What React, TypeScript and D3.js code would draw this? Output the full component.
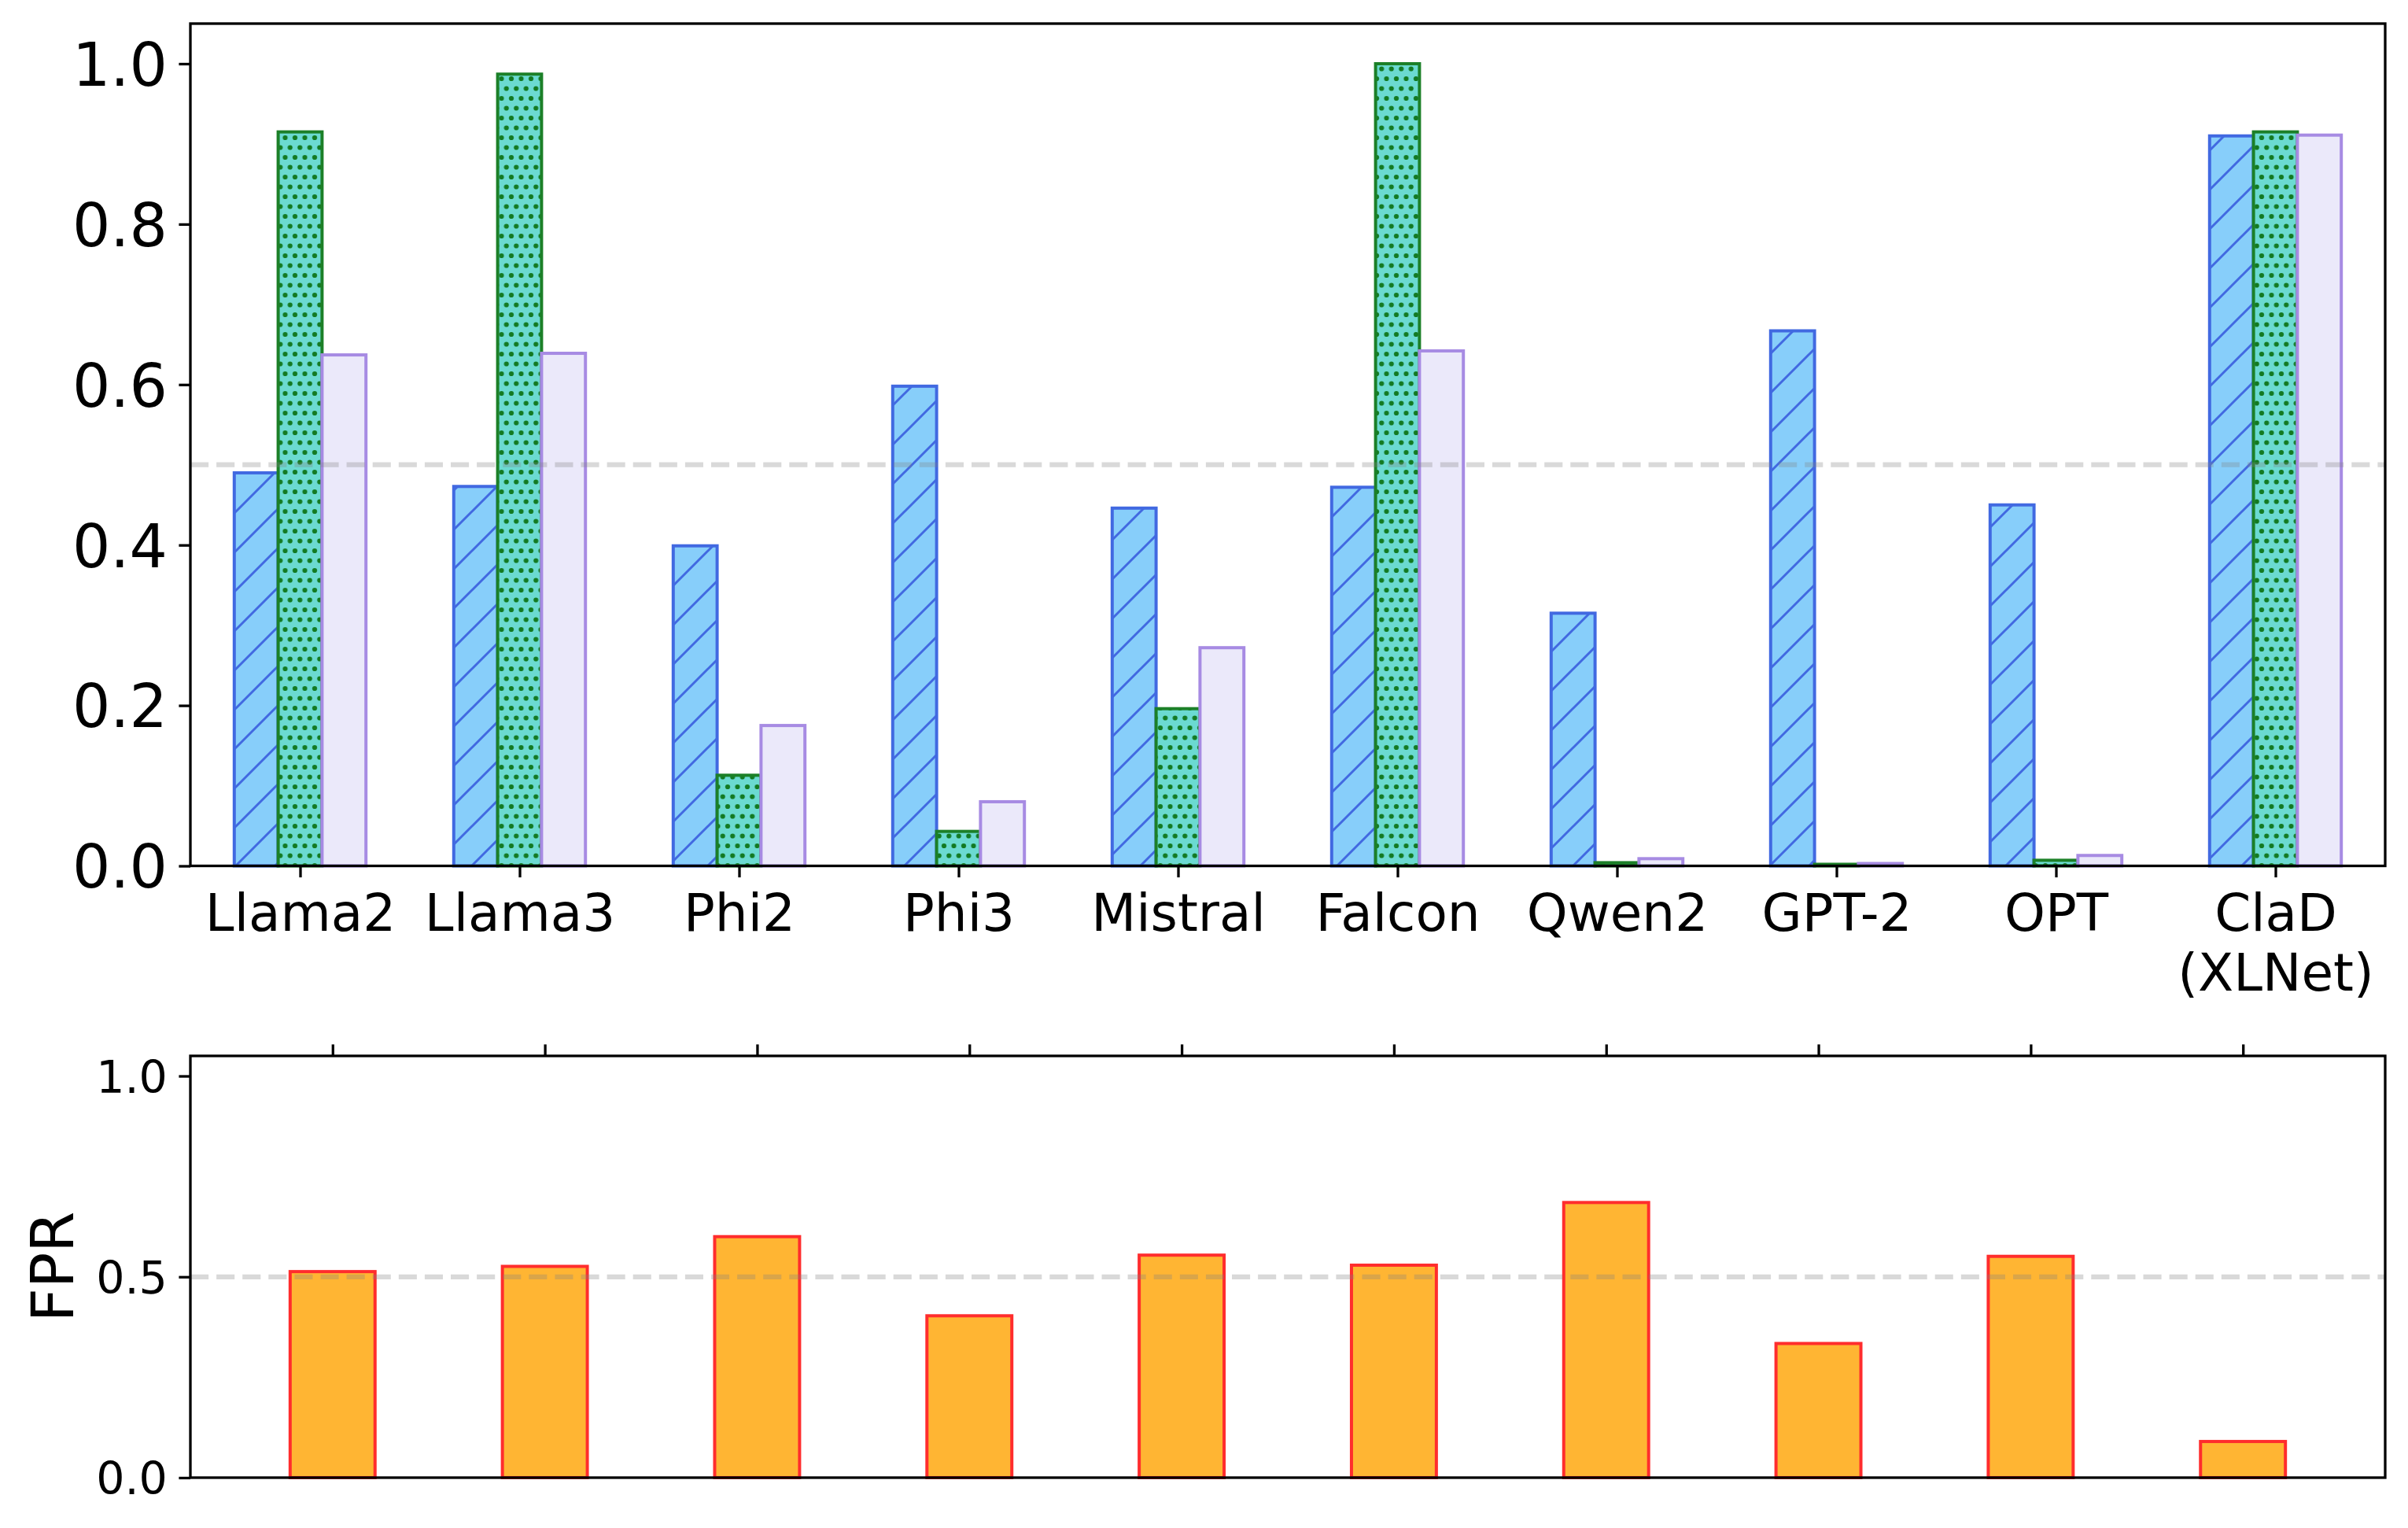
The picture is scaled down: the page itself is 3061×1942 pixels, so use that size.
import React, { useRef, useEffect } from 'react';
import * as d3 from 'd3';

// categories and values
const models = ['Llama2', 'Llama3', 'Phi2', 'Phi3', 'Mistral', 'Falcon', 'Qwen2', 'GPT-2', 'OPT', 'ClaD\n(XLNet)'];
const blueValues = [0.490, 0.473, 0.399, 0.598, 0.446, 0.472, 0.315, 0.667, 0.450, 0.910];
const greenValues = [0.915, 0.987, 0.113, 0.043, 0.196, 1.0, 0.004, 0.002, 0.007, 0.915];
const purpleValues = [0.637, 0.639, 0.175, 0.080, 0.272, 0.642, 0.009, 0.003, 0.013, 0.911];
const fprValues = [0.513, 0.526, 0.600, 0.403, 0.554, 0.529, 0.685, 0.334, 0.551, 0.090];
const topTicks = [0, 0.2, 0.4, 0.6, 0.8, 1.0];
const bottomTicks = [0, 0.5, 1.0];

const W = 3061;
const H = 1942;
const FONT = '"DejaVu Sans", sans-serif';

const Chart: React.FC = () => {
  const ref = useRef<SVGSVGElement | null>(null);

  useEffect(() => {
    if (!ref.current) return;
    const svg = d3.select(ref.current);
    svg.selectAll('*').remove();

    const left = 242;
    const right = 3032;
    const top1 = { top: 30, bottom: 1100.5 };
    const top2 = { top: 1342, bottom: 1878 };
    const tick = 14.6;
    const lw = 3.3;
    const barW = 0.2;

    const x1 = d3.scaleLinear().domain([-0.5, 9.5]).range([left, right]);
    const y1 = d3.scaleLinear().domain([0, 1.05]).range([top1.bottom, top1.top]);
    const x2 = d3.scaleLinear().domain([-0.67, 9.67]).range([left, right]);
    const y2 = d3.scaleLinear().domain([0, 1.05]).range([top2.bottom, top2.top]);

    // hatch patterns
    const defs = svg.append('defs');
    const hatch = defs.append('pattern')
      .attr('id', 'hatch-slash')
      .attr('patternUnits', 'userSpaceOnUse')
      .attr('width', 50).attr('height', 50);
    hatch.append('rect').attr('width', 50).attr('height', 50).attr('fill', '#87CEFA');
    hatch.append('path')
      .attr('d', 'M0,50 L50,0 M-10,10 L10,-10 M40,60 L60,40')
      .attr('stroke', '#4169E1').attr('stroke-width', 3);

    const dots = defs.append('pattern')
      .attr('id', 'hatch-dots')
      .attr('patternUnits', 'userSpaceOnUse')
      .attr('width', 12.5).attr('height', 25);
    dots.append('rect').attr('width', 12.5).attr('height', 25).attr('fill', '#6BDAD1');
    [[0, 0], [12.5, 0], [0, 25], [12.5, 25], [6.25, 12.5]].forEach(([cx, cy]) => {
      dots.append('circle').attr('cx', cx).attr('cy', cy).attr('r', 3.1).attr('fill', '#137A22');
    });

    // ---------- top panel ----------
    const g1 = svg.append('g');
    const series = [
      { values: blueValues, offset: -barW, fill: 'url(#hatch-slash)', stroke: '#4169E1' },
      { values: greenValues, offset: 0, fill: 'url(#hatch-dots)', stroke: '#1C8028' },
      { values: purpleValues, offset: barW, fill: '#EBE9FA', stroke: '#A78BE3' },
    ];
    series.forEach(s => {
      g1.append('g').selectAll('rect')
        .data(s.values)
        .join('rect')
        .attr('x', (_, i) => x1(i + s.offset - barW / 2))
        .attr('width', x1(barW) - x1(0))
        .attr('y', d => y1(d))
        .attr('height', d => y1(0) - y1(d))
        .attr('fill', s.fill)
        .attr('stroke', s.stroke)
        .attr('stroke-width', 4);
    });

    g1.append('line')
      .attr('x1', left).attr('x2', right)
      .attr('y1', y1(0.5)).attr('y2', y1(0.5))
      .attr('stroke', 'gray').attr('stroke-opacity', 0.3)
      .attr('stroke-width', 6.25).attr('stroke-dasharray', '23.1 10');

    const yAxis1 = g1.append('g')
      .attr('transform', `translate(${left},0)`)
      .call(d3.axisLeft(y1).tickValues(topTicks).tickSize(tick).tickPadding(tick).tickFormat(d3.format('.1f')));
    yAxis1.select('.domain').remove();
    yAxis1.selectAll('.tick line').attr('stroke', '#000').attr('stroke-width', lw);
    yAxis1.selectAll('.tick text')
      .attr('font-family', FONT).attr('font-size', 76).attr('fill', '#000')
      .attr('dy', '0.36em');

    const xAxis1 = g1.append('g')
      .attr('transform', `translate(0,${top1.bottom})`)
      .call(d3.axisBottom(x1).tickValues(d3.range(models.length)).tickSize(tick).tickPadding(tick));
    xAxis1.select('.domain').remove();
    xAxis1.selectAll('.tick line').attr('stroke', '#000').attr('stroke-width', lw);
    xAxis1.selectAll<SVGTextElement, number>('.tick text').each(function (d) {
      const t = d3.select(this);
      t.text(null).attr('dy', null)
        .attr('font-family', FONT).attr('font-size', 66).attr('fill', '#000');
      models[d].split('\n').forEach((line, i) => {
        t.append('tspan').attr('x', 0).attr('dy', i === 0 ? '0.8em' : '1.16em').text(line);
      });
    });

    g1.append('rect')
      .attr('x', left).attr('y', top1.top)
      .attr('width', right - left).attr('height', top1.bottom - top1.top)
      .attr('fill', 'none').attr('stroke', '#000').attr('stroke-width', lw);

    // ---------- bottom panel (FPR) ----------
    const g2 = svg.append('g');
    g2.append('g').selectAll('rect')
      .data(fprValues)
      .join('rect')
      .attr('x', (_, i) => x2(i - 0.2))
      .attr('width', x2(0.4) - x2(0))
      .attr('y', d => y2(d))
      .attr('height', d => y2(0) - y2(d))
      .attr('fill', '#FFB533')
      .attr('stroke', '#FF2D2D')
      .attr('stroke-width', 4);

    g2.append('line')
      .attr('x1', left).attr('x2', right)
      .attr('y1', y2(0.5)).attr('y2', y2(0.5))
      .attr('stroke', 'gray').attr('stroke-opacity', 0.3)
      .attr('stroke-width', 6.25).attr('stroke-dasharray', '23.1 10');

    const yAxis2 = g2.append('g')
      .attr('transform', `translate(${left},0)`)
      .call(d3.axisLeft(y2).tickValues(bottomTicks).tickSize(tick).tickPadding(tick).tickFormat(d3.format('.1f')));
    yAxis2.select('.domain').remove();
    yAxis2.selectAll('.tick line').attr('stroke', '#000').attr('stroke-width', lw);
    yAxis2.selectAll('.tick text')
      .attr('font-family', FONT).attr('font-size', 57).attr('fill', '#000')
      .attr('dy', '0.36em');

    const xAxis2 = g2.append('g')
      .attr('transform', `translate(0,${top2.top})`)
      .call(d3.axisTop(x2).tickValues(d3.range(models.length)).tickSize(tick).tickFormat(() => ''));
    xAxis2.select('.domain').remove();
    xAxis2.selectAll('.tick line').attr('stroke', '#000').attr('stroke-width', lw);

    g2.append('text')
      .attr('transform', `translate(93,${(top2.top + top2.bottom) / 2}) rotate(-90)`)
      .attr('text-anchor', 'middle')
      .attr('font-family', FONT).attr('font-size', 75).attr('fill', '#000')
      .text('FPR');

    g2.append('rect')
      .attr('x', left).attr('y', top2.top)
      .attr('width', right - left).attr('height', top2.bottom - top2.top)
      .attr('fill', 'none').attr('stroke', '#000').attr('stroke-width', lw);
  }, []);

  return (
    <svg
      ref={ref}
      width={W}
      height={H}
      style={{ position: 'absolute', left: 0, top: 0, background: '#fff', display: 'block' }}
    />
  );
};

export default function App() {
  return <Chart />;
}
